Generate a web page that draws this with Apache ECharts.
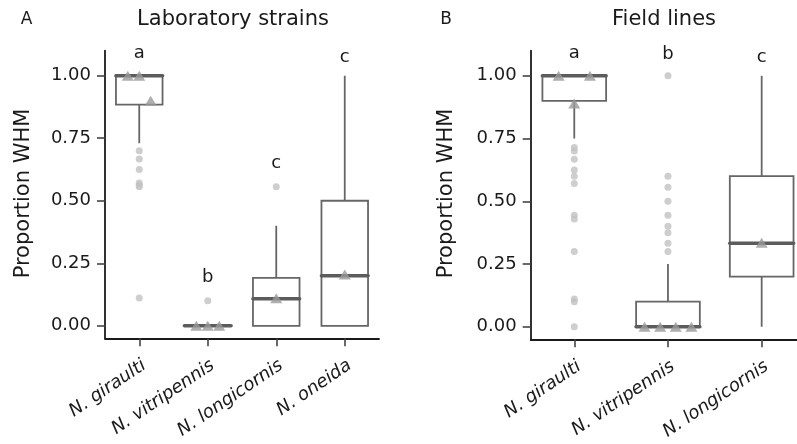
<!DOCTYPE html>
<html>
<head>
<meta charset="utf-8">
<script src="https://cdn.jsdelivr.net/npm/echarts@6/dist/echarts.min.js"></script>
<style>
  html, body { margin: 0; padding: 0; background: #fff; }
  #chart { width: 797px; height: 444px; }
</style>
</head>
<body>
<div id="chart"></div>
<script>
// panel A - laboratory strains
var labSpecies = ['N. giraulti', 'N. vitripennis', 'N. longicornis', 'N. oneida'];
// [lower whisker, q1, median, q3, upper whisker]
var labBoxes = [
  [0.73, 0.884, 1.0, 1.0, 1.0],
  [0, 0, 0, 0, 0],
  [0, 0, 0.108, 0.192, 0.40],
  [0, 0, 0.20, 0.50, 1.0]
];
var labOutliers = [
  [0.70, 0.667, 0.625, 0.571, 0.562, 0.556, 0.111],
  [0.10],
  [0.556],
  []
];
var labMeans = [
  [1.0, 1.0, 0.90],
  [0, 0, 0],
  [0.11],
  [0.205]
];
var labLetters = ['a', 'b', 'c', 'c'];
var labLetterY = [1.088, 0.192, 0.649, 1.072];

// panel B - field lines
var fieldSpecies = ['N. giraulti', 'N. vitripennis', 'N. longicornis'];
var fieldBoxes = [
  [0.75, 0.90, 1.0, 1.0, 1.0],
  [0, 0, 0, 0.10, 0.25],
  [0, 0.20, 0.333, 0.60, 1.0]
];
var fieldOutliers = [
  [0.714, 0.70, 0.667, 0.625, 0.60, 0.571, 0.444, 0.429, 0.30, 0.111, 0.10, 0],
  [1.0, 0.60, 0.556, 0.50, 0.444, 0.40, 0.375, 0.333, 0.30],
  []
];
var fieldMeans = [
  [1.0, 0.89, 1.0],
  [0, 0, 0, 0],
  [0.335]
];
var fieldLetters = ['a', 'b', 'c'];
var fieldLetterY = [1.088, 1.085, 1.074];

var yTicks = [0, 0.25, 0.5, 0.75, 1.0];

var FONT = 'DejaVu Sans';
var INK = '#1a1a1a';
var BOX = '#666666';

function renderBox(params, api) {
  var i = api.value(0);
  var half = api.size([1, 0])[0] * 0.34;
  var lo = api.coord([i, api.value(1)]);
  var q1 = api.coord([i, api.value(2)]);
  var md = api.coord([i, api.value(3)]);
  var q3 = api.coord([i, api.value(4)]);
  var hi = api.coord([i, api.value(5)]);
  var ln = { stroke: BOX, lineWidth: 1.8 };
  return {
    type: 'group',
    children: [
      { type: 'line', shape: { x1: lo[0], y1: lo[1], x2: q1[0], y2: q1[1] }, style: ln },
      { type: 'line', shape: { x1: q3[0], y1: q3[1], x2: hi[0], y2: hi[1] }, style: ln },
      { type: 'rect', shape: { x: q3[0] - half, y: q3[1], width: half * 2, height: q1[1] - q3[1] },
        style: { fill: '#fff', stroke: BOX, lineWidth: 1.8 } },
      { type: 'line', shape: { x1: md[0] - half, y1: md[1], x2: md[0] + half, y2: md[1] },
        style: { stroke: '#5c5c5c', lineWidth: 3.6, lineCap: 'round' } }
    ]
  };
}

function renderLetter(params, api) {
  var p = api.coord([api.value(0), api.value(1)]);
  return {
    type: 'text', x: p[0], y: p[1],
    style: { text: api.value(2), fill: INK, font: '18px "' + FONT + '"', align: 'center', verticalAlign: 'middle' }
  };
}

function panelSeries(idx, boxes, outliers, means, letters, letterY) {
  var outPts = [], meanPts = [];
  outliers.forEach(function (list, i) {
    list.forEach(function (v) { outPts.push([i, v]); });
  });
  // dodge the per-strain means like ggplot
  means.forEach(function (list, i) {
    var n = list.length;
    list.forEach(function (v, k) { meanPts.push([i + (k - (n - 1) / 2) * 0.167, v]); });
  });
  return [
    {
      type: 'custom', xAxisIndex: idx, yAxisIndex: idx,
      renderItem: renderBox,
      encode: { x: 0, y: [1, 2, 3, 4, 5] },
      data: boxes.map(function (b, i) { return [i].concat(b); }),
      z: 2
    },
    {
      type: 'scatter', xAxisIndex: idx, yAxisIndex: idx,
      data: outPts, symbolSize: 7,
      itemStyle: { color: '#c2c2c2' }, z: 3
    },
    {
      type: 'scatter', xAxisIndex: idx, yAxisIndex: idx,
      data: meanPts, symbol: 'triangle', symbolSize: [12, 10],
      itemStyle: { color: '#9a9a9a' }, z: 4
    },
    {
      type: 'custom', xAxisIndex: idx, yAxisIndex: idx,
      renderItem: renderLetter,
      data: letters.map(function (l, i) { return [i, letterY[i], l]; }),
      z: 5
    }
  ];
}

function xAxisFor(idx, names, min, max) {
  var ticks = names.map(function (n, i) { return i; });
  return {
    type: 'value', gridIndex: idx, min: min, max: max,
    splitLine: { show: false },
    axisLine: { show: true, onZero: false, lineStyle: { color: INK, width: 1.8 } },
    axisTick: { show: true, customValues: ticks, length: 8, lineStyle: { color: '#444', width: 1.6 } },
    axisLabel: {
      customValues: ticks, rotate: 34, margin: 18,
      align: 'right', verticalAlign: 'top',
      fontFamily: FONT, fontStyle: 'italic', fontSize: 18, color: INK,
      formatter: function (v) { return names[Math.round(v)]; }
    }
  };
}

function yAxisFor(idx) {
  return {
    type: 'value', gridIndex: idx, min: -0.05, max: 1.1,
    splitLine: { show: false },
    axisLine: { show: true, onZero: false, lineStyle: { color: INK, width: 1.8 } },
    axisTick: { show: true, customValues: yTicks, length: 8, lineStyle: { color: '#444', width: 1.6 } },
    axisLabel: {
      customValues: yTicks, margin: 14,
      fontFamily: FONT, fontSize: 18, color: INK,
      formatter: function (v) { return v.toFixed(2); }
    }
  };
}

function label(text, x, y, size, rot) {
  return {
    type: 'text', x: x, y: y, rotation: rot || 0,
    style: { text: text, fill: INK, font: size + 'px "' + FONT + '"', align: 'center', verticalAlign: 'middle' }
  };
}

var chart = echarts.init(document.getElementById('chart'));
chart.setOption({
  animation: false,
  backgroundColor: '#fff',
  textStyle: { fontFamily: FONT },
  grid: [
    { left: 105, top: 50.7, width: 274, height: 287.6, outerBoundsMode: 'none' },
    { left: 530.7, top: 50.7, width: 266.3, height: 288.6, outerBoundsMode: 'none' }
  ],
  xAxis: [
    xAxisFor(0, labSpecies, -0.5, 3.5),
    xAxisFor(1, fieldSpecies, -0.465, 2.377)
  ],
  yAxis: [yAxisFor(0), yAxisFor(1)],
  graphic: [
    label('A', 26.5, 20, 17),
    label('Laboratory strains', 233, 20, 21),
    label('Proportion WHM', 24, 193.5, 21, Math.PI / 2),
    label('B', 446, 20, 17),
    label('Field lines', 664, 20, 21),
    label('Proportion WHM', 447, 193.5, 21, Math.PI / 2)
  ],
  series: panelSeries(0, labBoxes, labOutliers, labMeans, labLetters, labLetterY)
    .concat(panelSeries(1, fieldBoxes, fieldOutliers, fieldMeans, fieldLetters, fieldLetterY))
});
</script>
</body>
</html>
